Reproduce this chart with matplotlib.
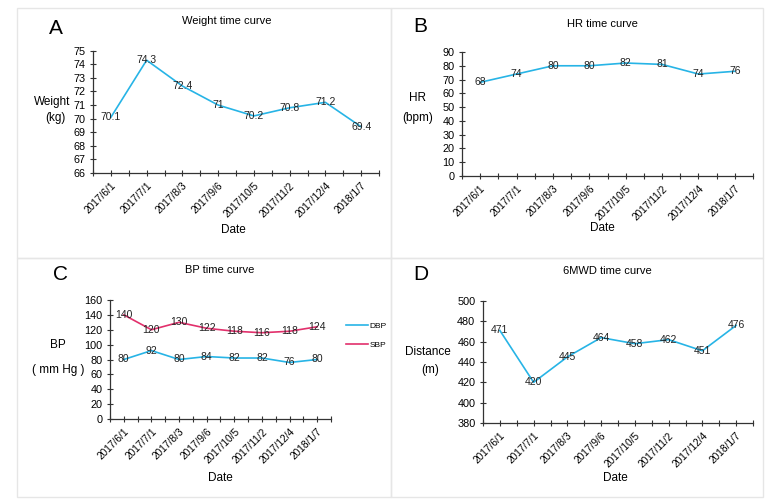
import matplotlib
matplotlib.use("Agg")
import matplotlib.pyplot as plt
from matplotlib.patches import Rectangle

plt.rcParams['font.family'] = ['Liberation Sans', 'DejaVu Sans']

dates = ["2017/6/1", "2017/7/1", "2017/8/3", "2017/9/6", "2017/10/5", "2017/11/2", "2017/12/4", "2018/1/7"]
weight = [70.1, 74.3, 72.4, 71, 70.2, 70.8, 71.2, 69.4]
hr = [68, 74, 80, 80, 82, 81, 74, 76]
dbp = [80, 92, 80, 84, 82, 82, 76, 80]
sbp = [140, 120, 130, 122, 118, 116, 118, 124]
mwd = [471, 420, 445, 464, 458, 462, 451, 476]
weight_labels = ["70.1", "74.3", "72.4", "71", "70.2", "70.8", "71.2", "69.4"]

BLUE = "#27b4e6"
PINK = "#e2306c"
W, H = 765, 500

fig = plt.figure(figsize=(W / 100, H / 100), dpi=100)


def fr(x, y):
    return x / W, 1 - y / H


# panel borders
for (x0, y0, x1, y1) in [(17, 8, 391, 258), (391, 8, 763, 258), (17, 258, 391, 497), (391, 258, 763, 497)]:
    fig.patches.append(Rectangle((x0 / W, 1 - y1 / H), (x1 - x0) / W, (y1 - y0) / H,
                                 transform=fig.transFigure, fill=False, edgecolor="#e6e6e6", lw=1.0))


def make_ax(left, right, top, bottom):
    ax = fig.add_axes([left / W, 1 - bottom / H, (right - left) / W, (bottom - top) / H])
    for s in ["top", "right"]:
        ax.spines[s].set_visible(False)
    for s in ["left", "bottom"]:
        ax.spines[s].set_color("#333333")
        ax.spines[s].set_linewidth(0.9)
    n = len(dates)
    ax.set_xlim(-0.5, n - 0.5)
    ax.set_xticks(range(n))
    ax.set_xticklabels(dates, rotation=45, ha="right", rotation_mode="anchor", fontsize=7.3)
    ax.set_xticks([i - 0.5 for i in range(n + 1)], minor=True)
    ax.tick_params(axis="x", which="both", direction="inout", length=5, width=0.8, color="#333333", pad=3)
    ax.tick_params(axis="y", direction="inout", length=5, width=0.8, color="#333333", labelsize=7.8, pad=3)
    return ax


def labels(ax, vals, texts=None):
    for i, v in enumerate(vals):
        t = texts[i] if texts else str(v)
        ax.text(i, v, t, ha="center", va="center", fontsize=7.5, color="#222222")


# A
ax = make_ax(93, 379, 50.7, 173)
ax.plot(range(len(weight)), weight, color=BLUE, lw=1.2)
ax.set_ylim(66, 75)
ax.set_yticks(range(66, 76))
labels(ax, weight, weight_labels)
fig.text(*fr(227, 21), "Weight time curve", ha="center", va="center", fontsize=8)
fig.text(*fr(56, 28), "A", ha="center", va="center", fontsize=15)
fig.text(*fr(52, 102), "Weight", ha="center", va="center", fontsize=8.5)
fig.text(*fr(55, 118), "(kg)", ha="center", va="center", fontsize=8.5)
fig.text(*fr(233, 230), "Date", ha="center", va="center", fontsize=8.5)

# B
ax = make_ax(462, 753, 52, 176)
ax.plot(range(len(hr)), hr, color=BLUE, lw=1.2)
ax.set_ylim(0, 90)
ax.set_yticks(range(0, 91, 10))
labels(ax, hr)
fig.text(*fr(602, 24), "HR time curve", ha="center", va="center", fontsize=8)
fig.text(*fr(420, 27), "B", ha="center", va="center", fontsize=15)
fig.text(*fr(418, 98), "HR", ha="center", va="center", fontsize=8.5)
fig.text(*fr(418, 118), "(bpm)", ha="center", va="center", fontsize=8.5)
fig.text(*fr(602, 228), "Date", ha="center", va="center", fontsize=8.5)

# C
ax = make_ax(110, 331, 300, 419)
ax.plot(range(len(dbp)), dbp, color=BLUE, lw=1.2, label="DBP")
ax.plot(range(len(sbp)), sbp, color=PINK, lw=1.2, label="SBP")
ax.set_ylim(0, 160)
ax.set_yticks(range(0, 161, 20))
labels(ax, dbp)
labels(ax, sbp)
ax.legend(loc="center left", bbox_to_anchor=((343 - 110) / (331 - 110), (419 - 335.5) / (419 - 300)),
          frameon=False, fontsize=6, handlelength=2.6, handletextpad=0.2, labelspacing=1.35, borderaxespad=0)
fig.text(*fr(220, 270), "BP time curve", ha="center", va="center", fontsize=8)
fig.text(*fr(60, 275), "C", ha="center", va="center", fontsize=15)
fig.text(*fr(58, 345), "BP", ha="center", va="center", fontsize=8.5)
fig.text(*fr(58, 370), "( mm Hg )", ha="center", va="center", fontsize=8.5)
fig.text(*fr(220, 478), "Date", ha="center", va="center", fontsize=8.5)

# D
ax = make_ax(483, 753, 301, 423)
ax.plot(range(len(mwd)), mwd, color=BLUE, lw=1.2)
ax.set_ylim(380, 500)
ax.set_yticks(range(380, 501, 20))
labels(ax, mwd)
fig.text(*fr(607, 271), "6MWD time curve", ha="center", va="center", fontsize=8)
fig.text(*fr(421, 275), "D", ha="center", va="center", fontsize=15)
fig.text(*fr(428, 352), "Distance", ha="center", va="center", fontsize=8.5)
fig.text(*fr(430, 370), "(m)", ha="center", va="center", fontsize=8.5)
fig.text(*fr(615, 478), "Date", ha="center", va="center", fontsize=8.5)

fig.savefig("out.png", dpi=100)
